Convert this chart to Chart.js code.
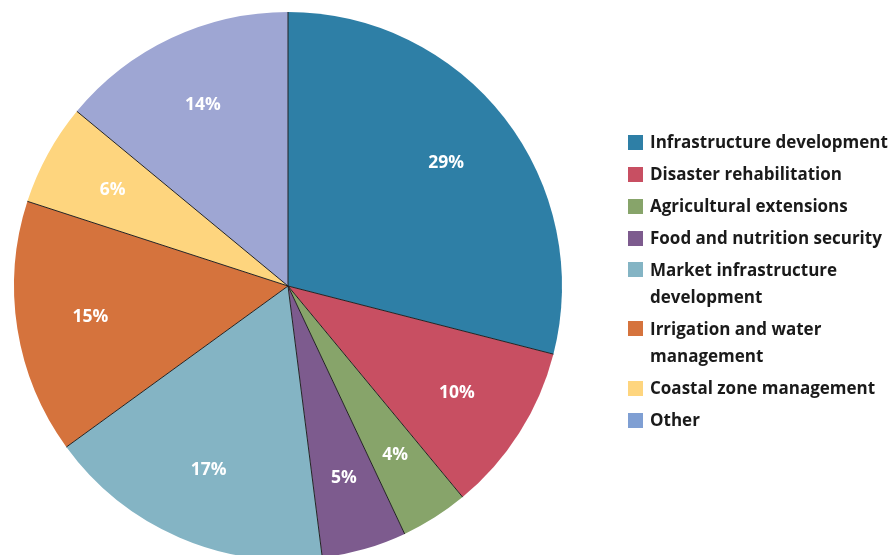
<!DOCTYPE html>
<html>
<head>
<meta charset="utf-8">
<script src="https://cdn.jsdelivr.net/npm/chart.js@4"></script>
<style>
  html, body { margin: 0; padding: 0; background: #fff; overflow: hidden; }
  #wrap { position: relative; width: 893px; height: 575px; }
  #legend { position: absolute; left: 628px; top: 131px; font-family: "Open Sans", sans-serif; font-weight: 700; font-size: 17px; color: #1a1a1a; white-space: nowrap; }
  .item { position: relative; padding-left: 22px; margin-bottom: 10px; line-height: 22px; }
  .item.two { line-height: 27px; margin-top: -3px; margin-bottom: 8px; }
  .sw { position: absolute; left: 0; top: 4px; width: 15px; height: 15px; }
  .item.two .sw { top: 6px; }
</style>
</head>
<body>
<div id="wrap">
  <canvas id="pieChart"></canvas>
  <div id="legend"></div>
</div>
<script>
var labels = ["Infrastructure development", "Disaster rehabilitation", "Agricultural extensions",
  "Food and nutrition security", "Market infrastructure development", "Irrigation and water management",
  "Coastal zone management", "Other"]
var legendLines = [["Infrastructure development"], ["Disaster rehabilitation"], ["Agricultural extensions"],
  ["Food and nutrition security"], ["Market infrastructure", "development"], ["Irrigation and water", "management"],
  ["Coastal zone management"], ["Other"]]
var shares = [29, 10, 4, 5, 17, 15, 6, 14]
var sliceColors = ["#2e7fa6", "#c84f62", "#87a46a", "#7d5b8e", "#84b4c4", "#d5733d", "#fed57e", "#9ea6d3"]
var legendColors = ["#2e7fa6", "#c84f62", "#87a46a", "#7d5b8e", "#84b4c4", "#d5733d", "#fed57e", "#7f9fd3"]

// legend as html so the two-line labels wrap like the original
var leg = document.getElementById("legend")
for (var i = 0; i < labels.length; i++) {
  var d = document.createElement("div")
  d.className = "item" + (legendLines[i].length > 1 ? " two" : "")
  d.innerHTML = '<span class="sw" style="background:' + legendColors[i] + '"></span>' + legendLines[i].join("<br>")
  leg.appendChild(d)
}

// dark radial separators and white % labels
var pieExtras = {
  id: "pieExtras",
  afterDatasetsDraw: function (chart) {
    var ctx = chart.ctx
    var arcs = chart.getDatasetMeta(0).data
    ctx.save()
    ctx.strokeStyle = "#222"
    ctx.lineWidth = 1
    arcs.forEach(function (a) {
      var p = a.getProps(["x", "y", "startAngle", "outerRadius"], true)
      ctx.beginPath()
      ctx.moveTo(p.x, p.y)
      ctx.lineTo(p.x + Math.cos(p.startAngle) * p.outerRadius, p.y + Math.sin(p.startAngle) * p.outerRadius)
      ctx.stroke()
    })
    ctx.fillStyle = "#fff"
    ctx.font = "bold 17.5px 'Open Sans', sans-serif"
    ctx.textAlign = "center"
    ctx.textBaseline = "middle"
    arcs.forEach(function (a, i) {
      var p = a.getProps(["x", "y", "startAngle", "endAngle", "outerRadius"], true)
      var mid = (p.startAngle + p.endAngle) / 2
      var r = p.outerRadius * 0.73
      ctx.fillText(shares[i] + "%", p.x + Math.cos(mid) * r, p.y + Math.sin(mid) * r)
    })
    ctx.restore()
  }
}

var ctxP = document.getElementById("pieChart").getContext("2d")
var myPieChart = new Chart(ctxP, {
  type: "pie",
  data: {
    labels: labels,
    datasets: [{
      data: shares,
      backgroundColor: sliceColors,
      borderWidth: 0
    }]
  },
  options: {
    responsive: true,
    maintainAspectRatio: false,
    animation: false,
    layout: { padding: { left: 14, right: 331, top: 12, bottom: 15 } },
    plugins: {
      legend: { display: false },
      tooltip: { enabled: false }
    }
  },
  plugins: [pieExtras]
})
</script>
</body>
</html>
